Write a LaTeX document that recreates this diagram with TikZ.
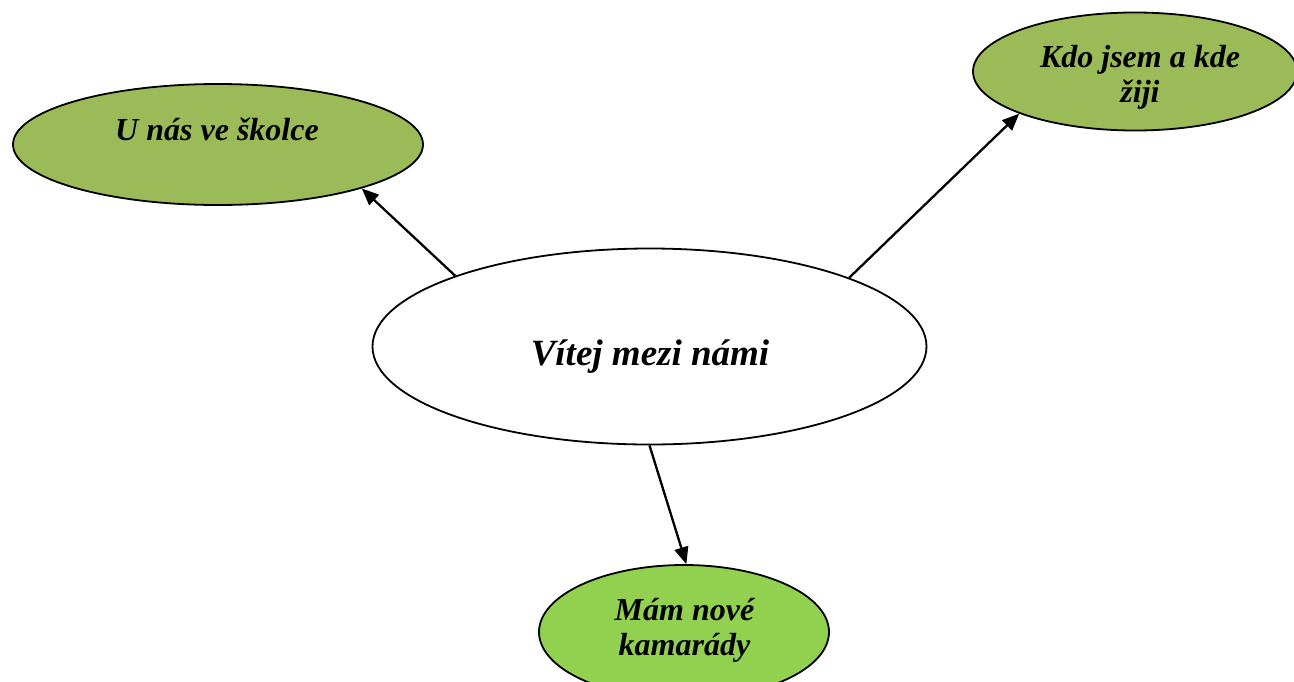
\documentclass[tikz,border=0pt]{standalone}
\usepackage{fontspec}
\setmainfont{Liberation Serif}
\usetikzlibrary{arrows.meta,shapes.geometric}
\definecolor{olivegreen}{RGB}{155,187,89}
\definecolor{lightgreen}{RGB}{146,208,80}
\tikzset{
  oval/.style={ellipse, draw=black, line width=1.8pt, inner sep=0pt},
  lbl/.style={font=\bfseries\itshape\fontsize{32}{35}\selectfont, align=center, anchor=base, inner sep=0pt},
  biglbl/.style={font=\bfseries\itshape\fontsize{37}{40}\selectfont, anchor=base, inner sep=0pt},
  conn/.style={line width=2.3pt, -{Triangle[length=17pt,width=14pt]}}
}
\begin{document}
\begin{tikzpicture}[x=1pt,y=-1pt]
\useasboundingbox (0,0) rectangle (1294,681);
\node[oval, fill=white, minimum width=554pt, minimum height=196pt] (c) at (649.5,346.5) {};
\node[oval, fill=olivegreen, minimum width=410pt, minimum height=121pt] (l) at (218,144.5) {};
\node[oval, fill=olivegreen, minimum width=324pt, minimum height=118pt] (r) at (1135,71.5) {};
\node[oval, fill=lightgreen, minimum width=290pt, minimum height=134pt] (b) at (684,632) {};
\node[lbl] (tl) at (217,140) {U nás ve školce};
\node[lbl] (tr) at (1140,102) {Kdo jsem a kde\\žiji};
\node[lbl] (tb) at (684.5,655) {Mám nové\\kamarády};
\node[biglbl] (tc) at (650,365) {Vítej mezi námi};
\draw[conn] (c.160) -- (l.-17.5);
\draw[conn] (c.19) -- (r.-160);
\draw[conn] (c.-90) -- (b.88);
\end{tikzpicture}
\end{document}
